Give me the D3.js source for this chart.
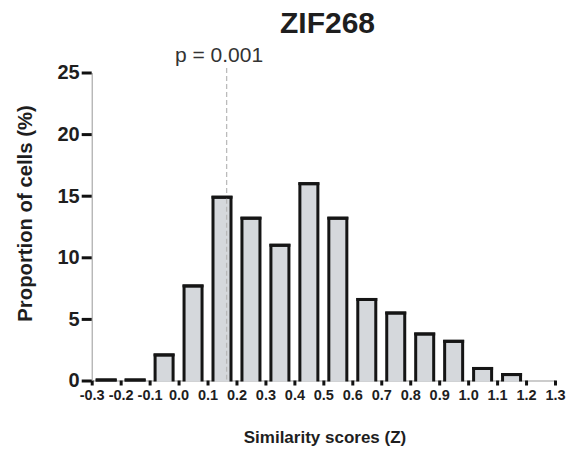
<!DOCTYPE html>
<html><head><meta charset="utf-8">
<script src="https://cdn.jsdelivr.net/npm/d3@7"></script>
<style>body{margin:0;background:#fff;} text{font-family:"Liberation Sans",Arial,sans-serif;}</style>
</head><body>
<svg id="c" width="575" height="454"></svg>
<script>
const binStarts = [-0.3,-0.2,-0.1,0.0,0.1,0.2,0.3,0.4,0.5,0.6,0.7,0.8,0.9,1.0,1.1];
const proportions = [0,0,2.2,7.8,15.0,13.3,11.1,16.1,13.3,6.7,5.6,3.9,3.3,1.1,0.6];
const xTicks = [-0.3,-0.2,-0.1,0.0,0.1,0.2,0.3,0.4,0.5,0.6,0.7,0.8,0.9,1.0,1.1,1.2,1.3];
const yTicks = [0,5,10,15,20,25];
const threshold = 0.166;
const binWidth = 0.1;

const svg = d3.select("#c");
const x = d3.scaleLinear().domain([-0.3,1.3]).range([91.7,555]);
const y = d3.scaleLinear().domain([0,25]).range([380.5,72.5]);

// title
svg.append("text").attr("x",327.5).attr("y",33.3).attr("text-anchor","middle")
  .attr("font-size",30).attr("font-weight","bold").attr("fill","#1e1e1e").text("ZIF268");

// dashed line
svg.append("line").attr("x1",x(threshold)).attr("x2",x(threshold))
  .attr("y1",68).attr("y2",y(0)).attr("stroke","#bbb").attr("stroke-width",1.3)
  .attr("stroke-dasharray","5,3");
svg.append("text").attr("x",219).attr("y",61.5).attr("text-anchor","middle")
  .attr("font-size",21).attr("fill","#333").text("p = 0.001");

// axes
const fmt = d3.format(".1f");
const xAxis = d3.axisBottom(x).tickValues(xTicks).tickFormat(d => fmt(d).replace("\u2212","-"))
  .tickSize(5).tickSizeOuter(0).tickPadding(4.5);
const gx = svg.append("g").attr("transform",`translate(0,${y(0)})`).call(xAxis);
gx.select(".domain").attr("stroke","#999").attr("stroke-width",1);
gx.selectAll(".tick line").attr("stroke","#111").attr("stroke-width",3);
gx.selectAll(".tick text").attr("font-size",14.5).attr("font-weight","bold").attr("fill","#1e1e1e")
  .attr("font-family","Liberation Sans, Arial, sans-serif");

const yAxis = d3.axisLeft(y).tickValues(yTicks).tickSize(10).tickSizeOuter(0).tickPadding(2);
const gy = svg.append("g").attr("transform",`translate(${x(-0.3)},0)`).call(yAxis);
gy.select(".domain").attr("stroke","#999").attr("stroke-width",1);
gy.selectAll(".tick line").attr("stroke","#111").attr("stroke-width",3);
gy.selectAll(".tick text").attr("font-size",20).attr("font-weight","bold").attr("fill","#1e1e1e")
  .attr("font-family","Liberation Sans, Arial, sans-serif");

// bars (open at the bottom, like the reference)
const barW = 18;
const geom = (d,i) => {
  const cx = x(d+binWidth/2), base = y(0)+1;
  return {x0: cx-barW/2, x1: cx+barW/2, base, yt: Math.min(y(proportions[i])+1.5, base-1.5)};
};
svg.append("g").selectAll("path").data(binStarts).join("path")
  .attr("d",(d,i)=>{ const g = geom(d,i); return `M${g.x0},${g.base}V${g.yt}H${g.x1}V${g.base}`; })
  .attr("fill","#d5d8dc").attr("stroke","#151515").attr("stroke-width",3)
  .attr("stroke-linejoin","miter");
// top edge of every bar (keeps zero-height bars visible as thick dashes)
svg.append("g").selectAll("rect").data(binStarts).join("rect")
  .attr("x",(d,i)=>geom(d,i).x0-1.5).attr("width",barW+3)
  .attr("y",(d,i)=>geom(d,i).yt-1.5).attr("height",3)
  .attr("fill","#151515");

// dashed line shows through the bars
svg.append("line").attr("x1",x(threshold)).attr("x2",x(threshold))
  .attr("y1",y(proportions[4])+3).attr("y2",y(0)-1).attr("stroke","#b8b8b8").attr("stroke-width",1.3)
  .attr("stroke-dasharray","5,3");

// axis titles
svg.append("text").attr("transform","translate(32,213.5) rotate(-90)").attr("text-anchor","middle")
  .attr("font-size",20.3).attr("font-weight","bold").attr("fill","#1e1e1e").text("Proportion of cells (%)");
svg.append("text").attr("x",325).attr("y",443).attr("text-anchor","middle")
  .attr("font-size",17).attr("font-weight","bold").attr("fill","#1e1e1e").text("Similarity scores (Z)");
</script>
</body></html>
